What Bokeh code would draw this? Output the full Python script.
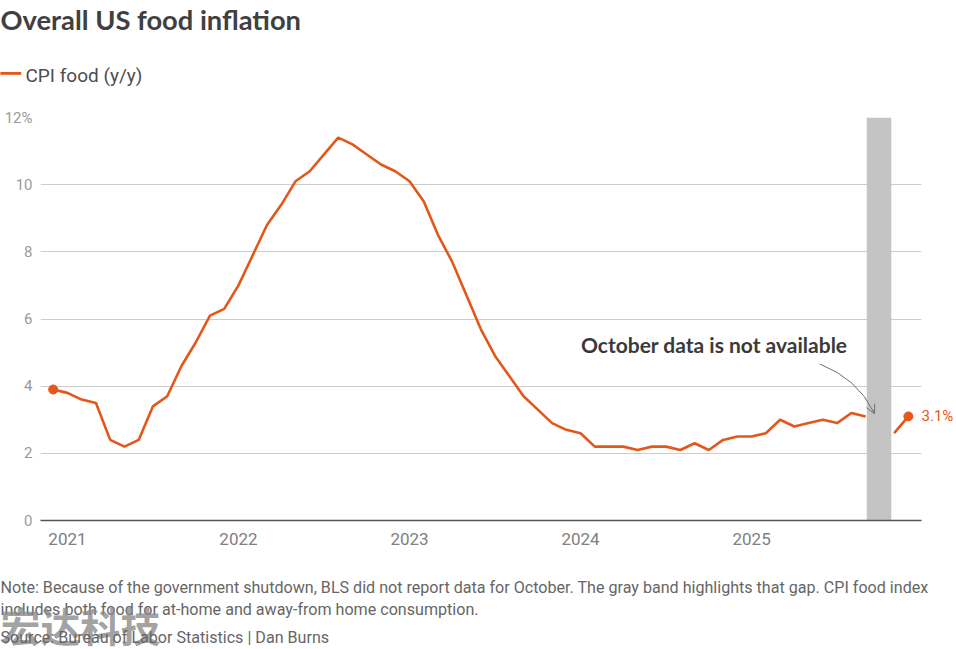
import numpy as np
import pandas as pd
from bokeh.plotting import figure
from bokeh.models import (Range1d, FixedTicker, Label, BoxAnnotation, Arrow, OpenHead,
                          LinearAxis, Title)
from bokeh.embed import file_html
from bokeh.resources import INLINE

# ---------------- data ----------------
months = [str(m) for m in pd.period_range("2020-12", "2025-12", freq="M")]
cpi_food = [3.9,
            3.8, 3.6, 3.5, 2.4, 2.2, 2.4, 3.4, 3.7, 4.6, 5.3, 6.1, 6.3,
            7.0, 7.9, 8.8, 9.4, 10.1, 10.4, 10.9, 11.4, 11.2, 10.9, 10.6, 10.4,
            10.1, 9.5, 8.5, 7.7, 6.7, 5.7, 4.9, 4.3, 3.7, 3.3, 2.9, 2.7,
            2.6, 2.2, 2.2, 2.2, 2.1, 2.2, 2.2, 2.1, 2.3, 2.1, 2.4, 2.5,
            2.5, 2.6, 3.0, 2.8, 2.9, 3.0, 2.9, 3.2, 3.1, None, 2.6, 3.1]
year_labels = ["2021", "2022", "2023", "2024", "2025"]
y_ticks = [0, 2, 4, 6, 8, 10, 12]
gap_month = "2025-10"
gap_before, gap_after = 0.92, 0.80   # band extent around the missing month
last_label = "3.1%"
series_name = "CPI food (y/y)"

ORANGE = "#e4571b"

x = np.arange(len(months), dtype=float)
y = np.array([np.nan if v is None else v for v in cpi_food], dtype=float)
tick_idx = [months.index(f"{yr}-01") for yr in year_labels]
gap_idx = months.index(gap_month)

# ---------------- figure ----------------
W, H = 956, 649
XS, XE = -0.89, 60.92
p = figure(width=W, height=H, x_range=Range1d(XS, XE), y_range=Range1d(0, 12),
           output_backend="svg", toolbar_location=None,
           min_border_left=40, min_border_right=34, min_border_top=116, min_border_bottom=129,
           outline_line_color=None, background_fill_color="white", border_fill_color="white")

FL, FR, FT, FB = 40, 922, 116, 520
def dx(px):
    return XS + (px - FL) * (XE - XS) / (FR - FL)
def dy(py):
    return (FB - py) * 12.0 / (FB - FT)

# ---- axes & grid
p.xgrid.visible = False
p.ygrid.ticker = FixedTicker(ticks=y_ticks)
p.ygrid.grid_line_color = "#cccccc"
p.ygrid.grid_line_width = 1

ya = p.yaxis[0]
ya.ticker = FixedTicker(ticks=y_ticks)
ya.major_label_overrides = {12: "12%"}
ya.axis_line_color = None
ya.major_tick_line_color = None
ya.minor_tick_line_color = None
ya.major_tick_in = 0
ya.major_tick_out = 0
ya.minor_tick_out = 0
ya.major_label_standoff = 8
ya.major_label_text_font = "Roboto"
ya.major_label_text_font_size = "15px"
ya.major_label_text_color = "#9a9a9a"

xa = p.xaxis[0]
xa.ticker = FixedTicker(ticks=tick_idx)
xa.major_label_overrides = {i: lab for i, lab in zip(tick_idx, year_labels)}
xa.axis_line_color = "#555555"
xa.axis_line_width = 1.5
xa.major_tick_line_color = None
xa.minor_tick_line_color = None
xa.major_tick_in = 0
xa.major_tick_out = 0
xa.minor_tick_out = 0
xa.major_label_standoff = 12
xa.major_label_text_font = "Roboto"
xa.major_label_text_font_size = "17px"
xa.major_label_text_color = "#808080"

# right axis carrying the last-value label
ra = LinearAxis(ticker=FixedTicker(ticks=[y[-1]]), major_label_overrides={float(y[-1]): last_label},
                axis_line_color=None, major_tick_line_color=None, minor_tick_line_color=None,
                major_tick_in=0, major_tick_out=0, minor_tick_out=0, major_label_standoff=0,
                major_label_text_font="Roboto", major_label_text_font_size="15px",
                major_label_text_color=ORANGE)
p.add_layout(ra, "right")

# ---- gray band for the missing month
p.add_layout(BoxAnnotation(left=gap_idx - gap_before, right=gap_idx + gap_after,
                           fill_color="#c4c4c4", fill_alpha=1.0, line_color=None, level="underlay"))

# ---- series
line_r = p.line(x, y, line_color=ORANGE, line_width=2.6)
p.scatter([x[0], x[-1]], [y[0], y[-1]], size=9, color=ORANGE)

# ---- annotation
p.add_layout(Label(x=dx(714.5), y=dy(344), text="October data is not available",
                   text_align="center", text_baseline="alphabetic",
                   text_font="Lato", text_font_style="bold", text_font_size="21px",
                   text_color="#3a3a3a"))
p.quadratic(x0=[dx(820)], y0=[dy(363)], x1=[dx(874)], y1=[dy(411)],
            cx=[dx(858)], cy=[dy(378)], line_color="#6e6e6e", line_width=1)
p.add_layout(Arrow(end=OpenHead(size=9, line_color="#6e6e6e", line_width=1),
                   x_start=dx(873.2), y_start=dy(409.3), x_end=dx(875), y_end=dy(413),
                   line_color="#6e6e6e", line_width=1))

# ---- side-panel texts (Title objects)
def side(place, txt, standoff, size, color, font="Roboto", style="normal",
         valign="top", offset=-40, alpha=1.0):
    t = Title(text=txt, align="left", offset=offset, vertical_align=valign, standoff=standoff,
              text_font=font, text_font_size=size, text_font_style=style,
              text_color=color, text_alpha=alpha)
    p.add_layout(t, place)

# above (first added = closest to frame)
side("above", " ", 38, "1px", "#ffffff")
side("above", series_name, -22, "19px", "#4d4d4d", valign="middle", offset=-15)
side("above", "\u2501\u2501", -20, "17px", ORANGE, font="DejaVu Sans", valign="middle")
side("above", " ", 28, "1px", "#ffffff")
side("above", "Overall US food inflation", 5, "27.3px", "#404040", font="Lato", style="bold")

# below (first added after the axis = closest to frame)
side("below", " ", 25.5, "1px", "#ffffff")
side("below", "Note: Because of the government shutdown, BLS did not report data for October. "
              "The gray band highlights that gap. CPI food index", 2, "16.1px", "#666666")
side("below", "includes both food for at-home and away-from home consumption.", 0, "16.1px", "#666666")
side("below", "宏达科技", -51, "40px", "#8a8a8a", font="Noto Sans CJK SC", style="bold",
     valign="middle", alpha=0.8)
side("below", "Source: Bureau of Labor Statistics | Dan Burns", -4, "16.1px", "#666666")

open("out.html", "w").write(file_html(p, INLINE))
